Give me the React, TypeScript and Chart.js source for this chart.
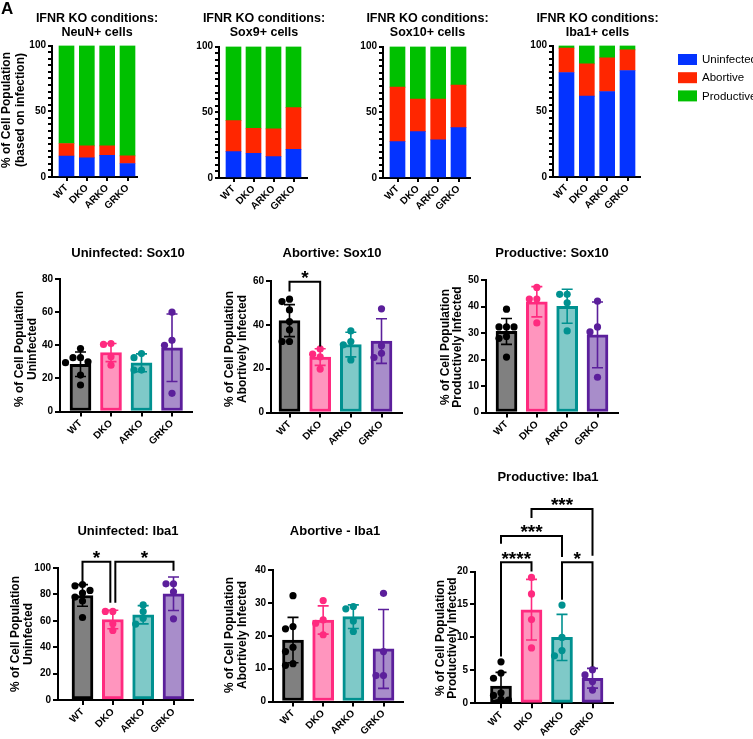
import React, { useEffect, useRef } from "react";
import { Chart, registerables } from "chart.js";

Chart.register(...registerables);

const PAGE_W = 753;
const PAGE_H = 739;
const FONT = "'Liberation Sans', Arial, Helvetica, sans-serif";

const GROUPS = ["WT", "DKO", "ARKO", "GRKO"];
const STATES = ["Uninfected", "Abortive", "Productive"];

// Composition of each cell type by infection state (% of cell population)
const NEUN_UNINFECTED = [16, 14.5, 16.5, 10.3];
const NEUN_ABORTIVE = [9.5, 9.2, 7.2, 5.8];
const NEUN_PRODUCTIVE = [74.5, 76.3, 76.3, 83.9];

const SOX9_UNINFECTED = [20, 18.8, 16.2, 21.8];
const SOX9_ABORTIVE = [23.6, 19, 21.1, 31.7];
const SOX9_PRODUCTIVE = [56.4, 62.2, 62.7, 46.5];

const SOX10_UNINFECTED = [27.7, 35.3, 29, 38.3];
const SOX10_ABORTIVE = [41.4, 24.7, 31, 32.3];
const SOX10_PRODUCTIVE = [30.9, 40, 40, 29.4];

const IBA1_UNINFECTED = [79.5, 61.5, 65, 81];
const IBA1_ABORTIVE = [18.5, 24.5, 25.6, 15.7];
const IBA1_PRODUCTIVE = [2, 14, 9.4, 3.3];

// Per-animal panels: bar = mean, whisker = SD, dots = individual animals
const UNINF_SOX10_MEAN = [28.5, 35.6, 29.4, 38.5];
const UNINF_SOX10_SD = [7.4, 5.5, 5.4, 20.4];
const UNINF_SOX10_DOTS = [
  [38, 32.5, 32.5, 30, 29.5, 22, 16],
  [41, 40.5, 33, 28],
  [35, 32.5, 25, 25],
  [60, 43, 40, 11],
];

const ABORT_SOX10_MEAN = [41.9, 25.3, 31, 32.6];
const ABORT_SOX10_SD = [7.3, 3.8, 5.6, 10.2];
const ABORT_SOX10_DOTS = [
  [51.7, 50.6, 46.8, 41.5, 37.7, 32.4, 32.4],
  [29, 26.6, 25.4, 19.8],
  [37.2, 32.4, 30.9, 24],
  [47.3, 30.5, 27, 25.1],
];

const PROD_SOX10_MEAN = [30.6, 41.8, 40.1, 29.3];
const PROD_SOX10_SD = [4.9, 5.7, 6.4, 12.4];
const PROD_SOX10_DOTS = [
  [39, 32.3, 32.3, 32.3, 28.7, 28, 20.9],
  [47.2, 42.8, 42.8, 33.8],
  [44.6, 44.6, 41.4, 30.8],
  [42, 32.3, 30.4, 13.3],
];

const UNINF_IBA1_MEAN = [79.2, 61, 64.6, 80.5];
const UNINF_IBA1_SD = [8.2, 7, 6.9, 12.7];
const UNINF_IBA1_DOTS = [
  [87.5, 86.5, 83, 81, 78, 75, 62.5],
  [67.1, 67.1, 57.7, 52.7],
  [72, 67, 62, 57.5],
  [88, 88, 82, 61.5],
];

const ABORT_IBA1_MEAN = [18.7, 24.8, 25.8, 16];
const ABORT_IBA1_SD = [6.9, 4.3, 3.6, 12];
const ABORT_IBA1_DOTS = [
  [32.2, 22.8, 22.1, 16.5, 15.2, 11.5, 11],
  [30.7, 24.8, 23.8, 20.3],
  [28.9, 28.2, 24.5, 21.3],
  [32.9, 15.2, 7.9, 7.9],
];

const PROD_IBA1_MEAN = [2.6, 14.2, 10, 3.8];
const PROD_IBA1_SD = [2.1, 4.6, 3.5, 1.5];
const PROD_IBA1_DOTS = [
  [6.3, 4.6, 3.8, 1.6, 1.2, 0.6, 0.5],
  [19.1, 16.6, 12.7, 8.4],
  [14.9, 10, 8, 7.2],
  [5.1, 4.3, 3.3, 2],
];

const STATE_COLORS = ["#0433FF", "#FF2600", "#00C000"];
const GROUP_FILL = ["#808080", "#FF95BE", "#7FC9C8", "#A88DCA"];
const GROUP_LINE = ["#000000", "#FF2A7F", "#009190", "#5B1F9B"];

type Geo = { axisX: number; endX: number; topY: number; bottomY: number; first: number; last: number };
type TextItem = { text: string; x: number; y: number; size: number; bold?: boolean; rotate?: boolean; align?: CanvasTextAlign };
type Bracket = { a: number; b: number; top: number; dropA: number; dropB: number; label: string; shiftA?: number; shiftB?: number };

const Y_BOX = 30;
const X_BOX = 40;

function xRange(g: Geo) {
  const s = (g.last - g.first) / 3;
  return { min: -(g.first - g.axisX) / s, max: 3 + (g.endX - g.last) / s, spacing: s };
}

function layoutFor(g: Geo) {
  return {
    padding: {
      left: g.axisX - Y_BOX,
      top: g.topY,
      right: PAGE_W - g.endX,
      bottom: PAGE_H - g.bottomY - X_BOX,
    },
  };
}

function scalesFor(g: Geo, yMax: number, yStep: number, labelEvery: number, stacked: boolean, tickLen: number, fontSize: number) {
  const r = xRange(g);
  const grid = { drawOnChartArea: false, drawTicks: true, tickLength: tickLen, lineWidth: 2, color: "#000", offset: false };
  const border = { display: true, width: 2, color: "#000" };
  const font = { family: FONT, size: fontSize, weight: "bold" as const };
  return {
    x: {
      type: "linear" as const,
      min: r.min,
      max: r.max,
      offset: false,
      stacked,
      grid,
      border,
      afterBuildTicks: (s: any) => {
        s.ticks = GROUPS.map((_, i) => ({ value: i }));
      },
      afterFit: (s: any) => {
        s.height = X_BOX;
      },
      ticks: {
        autoSkip: false,
        minRotation: 45,
        maxRotation: 45,
        padding: 1,
        color: "#000",
        font,
        callback: (v: any) => GROUPS[v] ?? "",
      },
    },
    y: {
      type: "linear" as const,
      min: 0,
      max: yMax,
      stacked,
      grid,
      border,
      afterFit: (s: any) => {
        s.width = Y_BOX;
      },
      ticks: {
        stepSize: yStep,
        autoSkip: false,
        padding: 2,
        color: "#000",
        font,
        callback: (v: any) => (Math.round(v) % labelEvery === 0 ? String(v) : ""),
      },
    },
  };
}

function drawTexts(ctx: CanvasRenderingContext2D, items: TextItem[]) {
  for (const t of items) {
    ctx.save();
    ctx.fillStyle = "#000";
    ctx.font = `${t.bold === false ? "normal" : "bold"} ${t.size}px ${FONT}`;
    ctx.textAlign = t.align ?? "center";
    ctx.textBaseline = "middle";
    ctx.translate(t.x, t.y);
    if (t.rotate) ctx.rotate(-Math.PI / 2);
    ctx.fillText(t.text, 0, 0);
    ctx.restore();
  }
}

function titleLines(lines: string[], x: number, y: number, gap: number, size: number): TextItem[] {
  return lines.map((text, i) => ({ text, x, y: y + i * gap, size }));
}

function yTitle(lines: string[], x: number, y: number, gap: number, size: number): TextItem[] {
  return lines.map((text, i) => ({ text, x: x + i * gap, y, size, rotate: true }));
}

const BASE_OPTIONS = {
  responsive: false,
  animation: false as const,
  devicePixelRatio: 1,
  events: [] as any[],
};

type StackedPanel = { geo: Geo; series: number[][]; texts: TextItem[]; legend?: boolean };

function stackedConfig(p: StackedPanel): any {
  return {
    type: "bar",
    data: {
      datasets: p.series.map((vals, k) => ({
        label: STATES[k],
        data: vals.map((v, i) => ({ x: i, y: v })),
        backgroundColor: STATE_COLORS[k],
        borderWidth: 0,
        barThickness: 15,
      })),
    },
    options: {
      ...BASE_OPTIONS,
      layout: layoutFor(p.geo),
      plugins: { legend: { display: false }, tooltip: { enabled: false } },
      scales: scalesFor(p.geo, 100, 5, 50, true, 4, 10),
    },
    plugins: [
      {
        id: "overlay",
        afterDraw(chart: any) {
          const ctx: CanvasRenderingContext2D = chart.ctx;
          drawTexts(ctx, p.texts);
          if (p.legend) {
            STATES.forEach((name, k) => {
              const y = 54 + k * 18.2;
              ctx.fillStyle = STATE_COLORS[k];
              ctx.fillRect(678, y, 19, 11);
              drawTexts(ctx, [{ text: name, x: 702, y: y + 6, size: 11.5, bold: false, align: "left" }]);
            });
          }
        },
      },
    ],
  };
}

type DotPanel = {
  geo: Geo;
  yMax: number;
  yStep: number;
  mean: number[];
  sd: number[];
  dots: number[][];
  texts: TextItem[];
  brackets?: Bracket[];
};

function swarm(p: DotPanel) {
  const r = xRange(p.geo);
  const pxPerUnit = (p.geo.bottomY - p.geo.topY) / p.yMax;
  const out: { x: number; y: number; c: string }[] = [];
  p.dots.forEach((vals, gi) => {
    const placed: { dx: number; py: number }[] = [];
    vals.forEach((v) => {
      const py = v * pxPerUnit;
      let dx = 0;
      for (let k = 0; k < 11; k++) {
        const cand = k === 0 ? 0 : (k % 2 ? -1 : 1) * Math.ceil(k / 2) * 7.5;
        if (placed.every((q) => Math.hypot(q.dx - cand, q.py - py) >= 6.5)) {
          dx = cand;
          break;
        }
      }
      placed.push({ dx, py });
      out.push({ x: gi + dx / r.spacing, y: v, c: GROUP_LINE[gi] });
    });
  });
  return out;
}

function dotConfig(p: DotPanel): any {
  const pts = swarm(p);
  return {
    type: "bar",
    data: {
      datasets: [
        {
          type: "bar",
          data: p.mean.map((m, i) => ({ x: i, y: m })),
          backgroundColor: GROUP_FILL,
          borderColor: GROUP_LINE,
          borderWidth: 3,
          borderSkipped: false,
          barThickness: 21,
          order: 1,
        },
        {
          type: "scatter",
          data: pts.map((q) => ({ x: q.x, y: q.y })),
          pointBackgroundColor: pts.map((q) => q.c),
          pointBorderColor: pts.map((q) => q.c),
          pointBorderWidth: 0,
          pointRadius: 3.6,
          clip: false,
          order: 0,
        },
      ],
    },
    options: {
      ...BASE_OPTIONS,
      layout: layoutFor(p.geo),
      plugins: { legend: { display: false }, tooltip: { enabled: false } },
      scales: scalesFor(p.geo, p.yMax, p.yStep, p.yStep, false, 5, 10),
    },
    plugins: [
      {
        id: "whiskers",
        afterDatasetDraw(chart: any, args: any) {
          if (args.index !== 0) return;
          const ctx: CanvasRenderingContext2D = chart.ctx;
          const { x, y } = chart.scales;
          ctx.save();
          ctx.lineWidth = 1.6;
          p.mean.forEach((m, i) => {
            const cx = x.getPixelForValue(i);
            const hi = y.getPixelForValue(m + p.sd[i]);
            const lo = y.getPixelForValue(Math.max(0, m - p.sd[i]));
            ctx.strokeStyle = GROUP_LINE[i];
            ctx.beginPath();
            ctx.moveTo(cx, hi);
            ctx.lineTo(cx, lo);
            ctx.moveTo(cx - 5.5, hi);
            ctx.lineTo(cx + 5.5, hi);
            ctx.moveTo(cx - 5.5, lo);
            ctx.lineTo(cx + 5.5, lo);
            ctx.stroke();
          });
          ctx.restore();
        },
        afterDraw(chart: any) {
          const ctx: CanvasRenderingContext2D = chart.ctx;
          const { x, y } = chart.scales;
          ctx.save();
          ctx.strokeStyle = "#000";
          ctx.lineWidth = 2;
          ctx.lineJoin = "miter";
          for (const b of p.brackets ?? []) {
            const xa = x.getPixelForValue(b.a) + (b.shiftA ?? 0);
            const xb = x.getPixelForValue(b.b) + (b.shiftB ?? 0);
            const yt = y.getPixelForValue(b.top);
            ctx.beginPath();
            ctx.moveTo(xa, y.getPixelForValue(b.dropA));
            ctx.lineTo(xa, yt);
            ctx.lineTo(xb, yt);
            ctx.lineTo(xb, y.getPixelForValue(b.dropB));
            ctx.stroke();
            ctx.fillStyle = "#000";
            ctx.font = `bold 19px ${FONT}`;
            ctx.textAlign = "center";
            ctx.textBaseline = "alphabetic";
            ctx.fillText(b.label, (xa + xb) / 2, yt - 8.5 + 0.57 * 19);
          }
          ctx.restore();
          drawTexts(ctx, p.texts);
        },
      },
    ],
  };
}

const AXIS_TITLE = "% of Cell Population";
const Y_TITLE_SIZE = 12;

function buildConfigs(): any[] {
  const topTitle = (second: string, x: number) => titleLines(["IFNR KO conditions:", second], x, 19, 14, 12.5);

  const stacked: StackedPanel[] = [
    {
      geo: { axisX: 52, endX: 137, topY: 45.5, bottomY: 177, first: 66.5, last: 127.5 },
      series: [NEUN_UNINFECTED, NEUN_ABORTIVE, NEUN_PRODUCTIVE],
      texts: [
        ...topTitle("NeuN+ cells", 97),
        ...yTitle([AXIS_TITLE, "(based on infection)"], 7, 110, 14, Y_TITLE_SIZE),
        { text: "A", x: 1, y: 9, size: 17, align: "left" },
      ],
    },
    {
      geo: { axisX: 219, endX: 307, topY: 46.5, bottomY: 178, first: 233.5, last: 293.5 },
      series: [SOX9_UNINFECTED, SOX9_ABORTIVE, SOX9_PRODUCTIVE],
      texts: topTitle("Sox9+ cells", 264),
    },
    {
      geo: { axisX: 383, endX: 470, topY: 46.5, bottomY: 178, first: 397.5, last: 458.5 },
      series: [SOX10_UNINFECTED, SOX10_ABORTIVE, SOX10_PRODUCTIVE],
      texts: topTitle("Sox10+ cells", 427.5),
    },
    {
      geo: { axisX: 553, endX: 640, topY: 45.5, bottomY: 177, first: 566.5, last: 627.5 },
      series: [IBA1_UNINFECTED, IBA1_ABORTIVE, IBA1_PRODUCTIVE],
      texts: topTitle("Iba1+ cells", 597.5),
      legend: true,
    },
  ];

  const dots: DotPanel[] = [
    {
      geo: { axisX: 60, endX: 192, topY: 279, bottomY: 411.5, first: 80.5, last: 172 },
      yMax: 80,
      yStep: 20,
      mean: UNINF_SOX10_MEAN,
      sd: UNINF_SOX10_SD,
      dots: UNINF_SOX10_DOTS,
      texts: [
        { text: "Uninfected: Sox10", x: 128, y: 253, size: 13 },
        ...yTitle([AXIS_TITLE, "Uninfected"], 20, 349, 12.5, Y_TITLE_SIZE),
      ],
    },
    {
      geo: { axisX: 271, endX: 402, topY: 281, bottomY: 412.5, first: 289.5, last: 381.5 },
      yMax: 60,
      yStep: 20,
      mean: ABORT_SOX10_MEAN,
      sd: ABORT_SOX10_SD,
      dots: ABORT_SOX10_DOTS,
      brackets: [{ a: 0, b: 1, top: 59.7, dropA: 55.2, dropB: 30.1, label: "*" }],
      texts: [
        { text: "Abortive: Sox10", x: 332, y: 253, size: 13 },
        ...yTitle([AXIS_TITLE, "Abortively Infected"], 230, 349, 12.5, Y_TITLE_SIZE),
      ],
    },
    {
      geo: { axisX: 486, endX: 618, topY: 280, bottomY: 412.5, first: 506.5, last: 597.5 },
      yMax: 50,
      yStep: 10,
      mean: PROD_SOX10_MEAN,
      sd: PROD_SOX10_SD,
      dots: PROD_SOX10_DOTS,
      texts: [
        { text: "Productive: Sox10", x: 552, y: 253, size: 13 },
        ...yTitle([AXIS_TITLE, "Productively Infected"], 446, 347, 12, Y_TITLE_SIZE),
      ],
    },
    {
      geo: { axisX: 58, endX: 193, topY: 568, bottomY: 700, first: 82.5, last: 173.5 },
      yMax: 100,
      yStep: 20,
      mean: UNINF_IBA1_MEAN,
      sd: UNINF_IBA1_SD,
      dots: UNINF_IBA1_DOTS,
      brackets: [
        { a: 0, b: 1, top: 104.8, dropA: 89.6, dropB: 73.7, label: "*", shiftB: -2.5 },
        { a: 1, b: 3, top: 104.8, dropA: 73.7, dropB: 97.9, label: "*", shiftA: 2.5 },
      ],
      texts: [
        { text: "Uninfected: Iba1", x: 128, y: 531, size: 13 },
        ...yTitle([AXIS_TITLE, "Uninfected"], 16, 634, 12.5, Y_TITLE_SIZE),
      ],
    },
    {
      geo: { axisX: 273, endX: 403, topY: 570, bottomY: 701.5, first: 293, last: 383.5 },
      yMax: 40,
      yStep: 10,
      mean: ABORT_IBA1_MEAN,
      sd: ABORT_IBA1_SD,
      dots: ABORT_IBA1_DOTS,
      texts: [
        { text: "Abortive - Iba1", x: 335, y: 531, size: 13 },
        ...yTitle([AXIS_TITLE, "Abortively Infected"], 230, 635, 12.5, Y_TITLE_SIZE),
      ],
    },
    {
      geo: { axisX: 475, endX: 613, topY: 571.5, bottomY: 703.3, first: 501, last: 592.5 },
      yMax: 20,
      yStep: 5,
      mean: PROD_IBA1_MEAN,
      sd: PROD_IBA1_SD,
      dots: PROD_IBA1_DOTS,
      brackets: [
        { a: 0, b: 1, top: 21.4, dropA: 7.1, dropB: 20, label: "****" },
        { a: 2, b: 3, top: 21.4, dropA: 15.7, dropB: 5.6, label: "*" },
        { a: 0, b: 2, top: 25.4, dropA: 24.2, dropB: 22.2, label: "***" },
        { a: 1, b: 3, top: 29.5, dropA: 28.1, dropB: 22.4, label: "***" },
      ],
      texts: [
        { text: "Productive: Iba1", x: 548, y: 477, size: 13 },
        ...yTitle([AXIS_TITLE, "Productively Infected"], 441, 638, 11.5, Y_TITLE_SIZE),
      ],
    },
  ];

  return [...stacked.map(stackedConfig), ...dots.map(dotConfig)];
}

export default function App() {
  const refs = useRef<(HTMLCanvasElement | null)[]>([]);

  useEffect(() => {
    const charts = buildConfigs().map((cfg, i) => new Chart(refs.current[i] as HTMLCanvasElement, cfg));
    return () => charts.forEach((c) => c.destroy());
  }, []);

  return (
    <div
      style={{
        position: "absolute",
        left: 0,
        top: 0,
        width: PAGE_W,
        height: PAGE_H,
        background: "#fff",
        overflow: "hidden",
      }}
    >
      {Array.from({ length: 10 }).map((_, i) => (
        <canvas
          key={i}
          ref={(el) => {
            refs.current[i] = el;
          }}
          width={PAGE_W}
          height={PAGE_H}
          style={{ position: "absolute", left: 0, top: 0 }}
        />
      ))}
    </div>
  );
}
